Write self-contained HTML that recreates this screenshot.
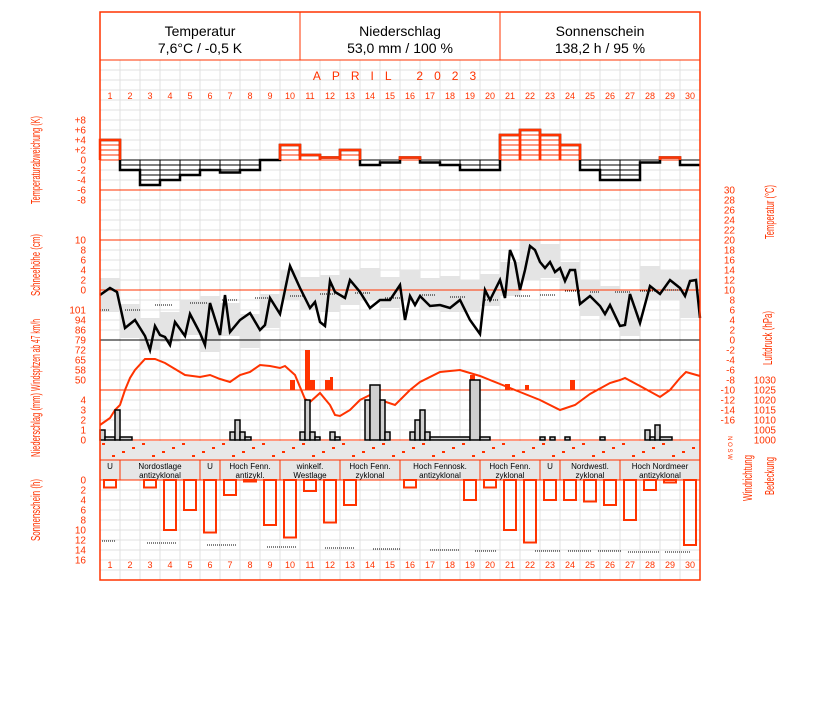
<!DOCTYPE html>
<html><head><meta charset="utf-8"><style>
body{margin:0;background:#fff;width:827px;height:702px;overflow:hidden}
svg{display:block}
text{font-family:"Liberation Sans",sans-serif}
</style></head><body>
<svg id="s" width="827" height="702" viewBox="0 0 827 702" xmlns="http://www.w3.org/2000/svg">
<g id="grid"></g>
<g id="g"></g>
<rect x="100" y="12" width="600" height="568" fill="none" stroke="#ff3300" stroke-width="1.5"/>
<line x1="100" y1="60" x2="700" y2="60" stroke="#ff3300"/>
<line x1="300" y1="12" x2="300" y2="60" stroke="#ff3300"/>
<line x1="500" y1="12" x2="500" y2="60" stroke="#ff3300"/>
<g font-size="14" text-anchor="middle" fill="#000">
<text x="200" y="36">Temperatur</text><text x="200" y="53">7,6°C / -0,5 K</text>
<text x="400" y="36">Niederschlag</text><text x="400" y="53">53,0 mm / 100 %</text>
<text x="600" y="36">Sonnenschein</text><text x="600" y="53">138,2 h / 95 %</text>
</g>
<text x="400" y="80" font-size="12" fill="#ff3300" text-anchor="middle" letter-spacing="11">APRIL  2023</text>
</svg>
<script>
const NS="http://www.w3.org/2000/svg";
const G=document.getElementById('g'),GR=document.getElementById('grid');
function el(p,t,a,txt){const e=document.createElementNS(NS,t);for(const k in a)e.setAttribute(k,a[k]);if(txt!==undefined)e.textContent=txt;p.appendChild(e);return e;}
const R="#ff3300";
for(let x=120;x<700;x+=20)el(GR,'line',{x1:x,y1:60,x2:x,y2:580,stroke:'#e0e0e0'});
for(let y=70;y<580;y+=10)el(GR,'line',{x1:100,y1:y,x2:700,y2:y,stroke:'#e0e0e0'});
for(let d=1;d<=30;d++){el(G,'text',{x:100+d*20-10,y:99,'font-size':9,fill:R,'text-anchor':'middle'},d);el(G,'text',{x:100+d*20-10,y:568,'font-size':9,fill:R,'text-anchor':'middle'},d);}
const box=[[278,312],[304,338],[318,350],[312,342],[300,335],[296,352],[303,336],[314,348],[294,328],[270,300],[277,310],[275,312],[270,305],[268,300],[277,308],[270,300],[278,310],[276,312],[280,312],[274,306],[262,296],[240,280],[244,278],[262,290],[280,316],[286,320],[290,336],[266,300],[270,300],[270,318]];
box.forEach((b,i)=>el(G,'rect',{x:100+i*20,y:b[0],width:20,height:b[1]-b[0],fill:'#e4e4e4'}));
el(G,'rect',{x:100,y:441,width:600,height:19,fill:'#e8e8e8'});
[190,240,290,390,440,460,480].forEach(y=>el(G,'line',{x1:100,y1:y,x2:700,y2:y,stroke:R}));
el(G,'line',{x1:100,y1:340,x2:700,y2:340,stroke:'#000'});
const dev=[4,-2,-5,-4,-3,-2,-2.5,-2,0,3,1,0.5,2,-1,-0.5,0.5,-0.5,-1,-2,-2,5,6,5,3,-2,-4,-4,-0.5,0.5,-1];
dev.forEach((v,i)=>{const x=100+i*20,y=160-v*5;const c=v>0?R:'#000';
 el(G,'rect',{x:x,y:Math.min(y,160),width:20,height:Math.abs(y-160),fill:'none',stroke:c,'stroke-width':1});
 for(let k=5;k<Math.abs(v*5);k+=5){const yy=v>0?160-k:160+k;el(G,'line',{x1:x,y1:yy,x2:x+20,y2:yy,stroke:c});}});
let dp="M100 "+(160-dev[0]*5);dev.forEach((v,i)=>{dp+=" H"+(100+i*20)+" V"+(160-v*5)+" H"+(120+i*20);});
el(G,'path',{d:dp,fill:'none',stroke:'#000','stroke-width':2.5});
dev.forEach((v,i)=>{if(v>0)el(G,'path',{d:`M${100+i*20} 160 V${160-v*5} H${120+i*20} V160`,fill:'none',stroke:R,'stroke-width':2.5});});
[[100,310,110],[125,310,140],[155,305,172],[190,303,208],[222,300,238],[255,298,270],[290,296,305],[320,294,335],[355,293,370],[385,298,400],[420,295,435],[450,297,465],[483,300,498],[515,296,530],[540,295,555],[565,291,580],[590,292,600],[615,292,630],[640,291,655],[665,290,680]].forEach(a=>el(G,'line',{x1:a[0],y1:a[1],x2:a[2],y2:a[1],stroke:'#000','stroke-dasharray':'1,1'}));
const bl=[[100,295],[110,288],[117,292],[125,328],[135,320],[145,336],[150,350],[155,326],[160,335],[165,337],[170,345],[175,322],[185,336],[190,314],[200,333],[205,345],[210,303],[220,335],[225,295],[230,332],[240,320],[250,313],[260,330],[265,325],[270,298],[280,314],[290,266],[300,288],[310,308],[315,302],[320,322],[325,326],[330,281],[335,292],[345,298],[350,280],[360,292],[370,308],[380,300],[390,300],[400,285],[405,320],[410,296],[415,305],[420,296],[430,306],[440,305],[450,308],[460,300],[470,320],[480,334],[485,290],[490,300],[500,280],[505,298],[510,250],[515,262],[520,290],[525,270],[530,246],[535,250],[540,262],[545,268],[550,262],[555,272],[560,268],[565,281],[570,270],[575,270],[580,304],[590,296],[600,306],[605,314],[610,305],[620,326],[625,325],[630,294],[640,323],[650,286],[660,294],[670,280],[680,288],[685,296],[690,281],[696,280],[700,318]];
el(G,'polyline',{points:bl.map(p=>p.join(',')).join(' '),fill:'none',stroke:'#000','stroke-width':2.5});
[[290,380,5],[305,350,5],[310,380,5],[325,380,5],[330,377,3],[470,375,5],[505,384,5],[525,385,4],[570,380,5]].forEach(b=>el(G,'rect',{x:b[0],y:b[1],width:b[2],height:390-b[1],fill:R}));
const pr=[[100,425],[110,418],[115,410],[120,405],[125,390],[130,378],[135,370],[145,359],[155,359],[165,363],[175,369],[185,375],[200,377],[210,375],[220,379],[230,382],[240,375],[250,372],[260,365],[270,366],[280,368],[285,366],[295,375],[305,399],[310,402],[320,393],[330,405],[335,415],[340,416],[350,410],[360,400],[370,395],[380,400],[395,405],[410,390],[420,382],[440,372],[460,370],[480,376],[490,380],[500,384],[520,392],[540,400],[560,410],[575,405],[590,394],[610,383],[620,380],[625,378],[640,386],[660,397],[670,390],[680,378],[686,372],[700,376]];
el(G,'polyline',{points:pr.map(p=>p.join(',')).join(' '),fill:'none',stroke:R,'stroke-width':2});
const pb=[[100,430,5],[105,437,10],[115,410,5],[120,437,12],[230,432,5],[235,420,5],[240,432,5],[245,437,6],[300,432,5],[305,400,5],[310,432,5],[315,437,5],[330,432,5],[335,437,5],[365,400,5],[370,385,10],[380,400,5],[385,432,5],[410,432,5],[415,420,5],[420,410,5],[425,432,5],[430,437,40],[470,380,10],[480,437,10],[540,437,5],[550,437,5],[565,437,5],[600,437,5],[645,430,5],[650,437,5],[655,425,5],[660,437,12]];
pb.forEach(b=>el(G,'rect',{x:b[0],y:b[1],width:b[2],height:440-b[1],fill:'#d0d0d0',stroke:'#000','stroke-width':1.5}));
for(let i=0;i<60;i++){const x=102+i*10,y=441+((i*7)%4)*4+2;el(G,'rect',{x:x,y:y,width:3,height:2,fill:R});}
const wt=[[100,120,"U"],[120,200,"Nordostlage","antizyklonal"],[200,220,"U"],[220,280,"Hoch Fenn.","antizykl."],[280,340,"winkelf.","Westlage"],[340,400,"Hoch Fenn.","zyklonal"],[400,480,"Hoch Fennosk.","antizyklonal"],[480,540,"Hoch Fenn.","zyklonal"],[540,560,"U"],[560,620,"Nordwestl.","zyklonal"],[620,700,"Hoch Nordmeer","antizyklonal"]];
wt.forEach(w=>{el(G,'rect',{x:w[0],y:460,width:w[1]-w[0],height:20,fill:'#e6e6e6',stroke:R});const cx=(w[0]+w[1])/2;
 el(G,'text',{x:cx,y:469,'font-size':8,'text-anchor':'middle'},w[2]);if(w[3])el(G,'text',{x:cx,y:478,'font-size':8,'text-anchor':'middle'},w[3]);});
const sun=[1.5,0,1.5,10,6,10.5,3,0.3,9,11.5,2.2,8.5,5,0,0,1.5,0,0,4,1.5,10,12.5,4,4,4.3,5,8,2,0.5,13];
sun.forEach((v,i)=>{if(v>0)el(G,'rect',{x:104+i*20,y:480,width:12,height:v*5,fill:'none',stroke:R,'stroke-width':2});});
[[102,541,116],[147,543,176],[207,545,236],[267,547,296],[325,548,354],[373,549,400],[430,550,460],[475,551,496],[535,551,560],[568,551,592],[598,551,622],[628,552,660],[665,552,690]].forEach(a=>el(G,'line',{x1:a[0],y1:a[1],x2:a[2],y2:a[1],stroke:'#000','stroke-dasharray':'1,1'}));
const L=(y,t)=>el(G,'text',{x:86,y:y+3.5,'font-size':10,fill:R,'text-anchor':'end'},t);
[["+8",120],["+6",130],["+4",140],["+2",150],["0",160],["-2",170],["-4",180],["-6",190],["-8",200]].forEach(a=>L(a[1],a[0]));
[["10",240],["8",250],["6",260],["4",270],["2",280],["0",290]].forEach(a=>L(a[1],a[0]));
[["101",310],["94",320],["86",330],["79",340],["72",350],["65",360],["58",370],["50",380]].forEach(a=>L(a[1],a[0]));
[["4",400],["3",410],["2",420],["1",430],["0",440]].forEach(a=>L(a[1],a[0]));
[0,2,4,6,8,10,12,14,16].forEach(v=>L(480+v*5,v));
for(let v=30;v>=-16;v-=2)el(G,'text',{x:735,y:190+(30-v)*5+3.5,'font-size':10,fill:R,'text-anchor':'end'},v);
for(let v=1030;v>=1000;v-=5)el(G,'text',{x:776,y:380+(1030-v)*2+3.5,'font-size':10,fill:R,'text-anchor':'end'},v);
el(G,'text',{x:728,y:448,'font-size':6,fill:R,'text-anchor':'middle',transform:'rotate(90 728 448)'},"N O S W");
const V=(x,y,t)=>el(G,'text',{x:x,y:y,'font-size':13,fill:R,'text-anchor':'middle',transform:`rotate(-90 ${x} ${y})`,'textLength':t[1],'lengthAdjust':'spacingAndGlyphs'},t[0]);
V(40,160,["Temperaturabweichung (K)",88]);V(40,265,["Schneehöhe (cm)",62]);V(40,355,["Windspitzen ab 47 km/h",72]);V(40,425,["Niederschlag (mm)",64]);V(40,510,["Sonnenschein (h)",62]);
V(774,212,["Temperatur (°C)",54]);V(772,338,["Luftdruck (hPa)",54]);V(752,478,["Windrichtung",46]);V(774,476,["Bedeckung",38]);
</script>
</body></html>
